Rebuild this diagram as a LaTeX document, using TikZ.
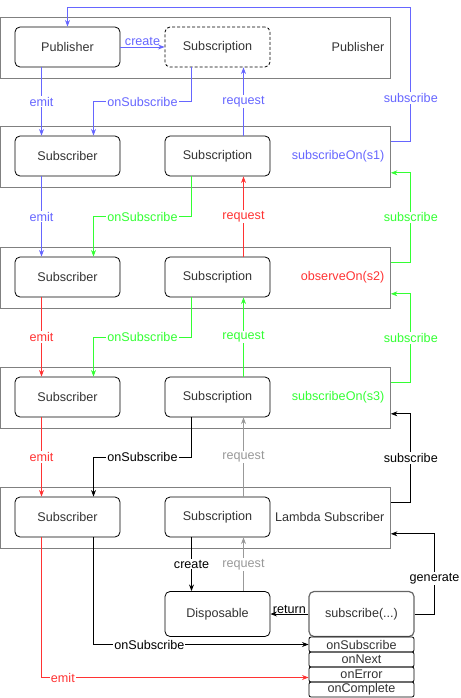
\documentclass[tikz,border=0pt]{standalone}
\usepackage{fontspec}
\setmainfont{Liberation Sans}
\usetikzlibrary{arrows.meta,calc,positioning}

\definecolor{rxblue}{HTML}{6666FF}
\definecolor{rxgreen}{HTML}{33FF33}
\definecolor{rxred}{HTML}{FF3333}
\definecolor{rxgray}{HTML}{999999}
\definecolor{rxtext}{HTML}{333333}

\tikzset{
    box/.style={draw, rounded corners=5pt, minimum width=105pt, minimum height=40pt,
        inner sep=0pt, text=rxtext},
    layer/.style={draw=gray, minimum width=390pt, minimum height=61pt,
        anchor=north west, inner sep=0pt},
    lbl/.style={fill=white, inner sep=1pt},
    cell/.style={draw, rounded corners=2pt, minimum width=105pt, minimum height=15pt,
        inner sep=0pt, text=rxtext},
}

\begin{document}
\begin{tikzpicture}[x=1pt, y=-1pt, >=Stealth, line width=0.8pt,
    font=\fontsize{12.6}{14}\selectfont]

    %% Background
    \useasboundingbox (0,0) rectangle (460,698);

    % Layers
    \node[layer] (L1) at (0,17) {};
    \foreach \i/\y in {2/126,3/247,4/367,5/487}
    {
    \node[layer] (L\i) at (0,\y) {};
    \node[box] (sr\i) at (67.5,\y+30) {Subscriber};
    \node[box] (sn\i) at (217.5,\y+30) {Subscription};
    }

    \node[box] (pub) at (67.5,47) {Publisher};
    \node[box, dash pattern=on 3pt off 2pt] (sub1) at (217.5,47) {Subscription};

    \node[anchor=east, text=rxtext] (t1) at (388,47) {Publisher};
    \node[anchor=east, text=rxblue] (t2) at (388,156) {subscribeOn(s1)};
    \node[anchor=east, text=rxred] (t3) at (388,277) {observeOn(s2)};
    \node[anchor=east, text=rxgreen] (t4) at (388,397) {subscribeOn(s3)};
    \node[anchor=east, text=rxtext] (t5) at (388,517) {Lambda Subscriber};

    % Bottom
    \node[box, minimum height=45pt] (disp) at (217.5,614) {Disposable};
    \node[box, minimum height=45pt, draw=black!60, line width=1.2pt] (call) at (361.5,614) {subscribe(...)};
    \foreach \n/\t [count=\k] in {cb1/onSubscribe,cb2/onNext,cb3/onError,cb4/onComplete}
    {
    \node[cell] (\n) at (361.5,629.5+15*\k) {\t};
    }

    % Publisher -> subscribeOn(s1)
    \draw[->, rxblue] (pub) -- node[above, inner sep=1pt]{create} (sub1);
    \draw[->, rxblue] ([xshift=-26pt]pub.south) -- node[lbl]{emit} ([xshift=-26pt]sr2.north);
    \draw[->, rxblue] ([xshift=-26pt]sub1.south) |- ($([xshift=-26pt]sub1.south)!0.5!([xshift=26pt]sr2.north)$)
        node[lbl]{onSubscribe} -| ([xshift=26pt]sr2.north);
    \draw[->, rxblue] ([xshift=26pt]sn2.north) -- node[lbl]{request} ([xshift=26pt]sub1.south);
    \draw[->, rxblue] ($(L2.north east)+(0,15)$) -- ++(20,0)
        -- node[lbl, pos=0.32]{subscribe} ++(0,-134) -| (pub.north);

    % subscribeOn(s1) -> observeOn(s2)
    \draw[->, rxblue] ([xshift=-26pt]sr2.south) -- node[lbl]{emit} ([xshift=-26pt]sr3.north);
    \draw[->, rxgreen] ([xshift=-26pt]sn2.south) |- ($([xshift=-26pt]sn2.south)!0.5!([xshift=26pt]sr3.north)$)
        node[lbl]{onSubscribe} -| ([xshift=26pt]sr3.north);
    \draw[->, rxred] ([xshift=26pt]sn3.north) -- node[lbl]{request} ([xshift=26pt]sn2.south);
    \draw[->, rxgreen] ($(L3.north east)+(0,15)$) -- ++(20,0)
        |- node[lbl, pos=0.25]{subscribe} ($(L2.south east)+(0,-15)$);

    % observeOn(s2) -> subscribeOn(s3)
    \draw[->, rxred] ([xshift=-26pt]sr3.south) -- node[lbl]{emit} ([xshift=-26pt]sr4.north);
    \draw[->, rxgreen] ([xshift=-26pt]sn3.south) |- ($([xshift=-26pt]sn3.south)!0.5!([xshift=26pt]sr4.north)$)
        node[lbl]{onSubscribe} -| ([xshift=26pt]sr4.north);
    \draw[->, rxgreen] ([xshift=26pt]sn4.north) -- node[lbl]{request} ([xshift=26pt]sn3.south);
    \draw[->, rxgreen] ($(L4.north east)+(0,15)$) -- ++(20,0)
        |- node[lbl, pos=0.25]{subscribe} ($(L3.south east)+(0,-15)$);

    % subscribeOn(s3) -> Lambda Subscriber
    \draw[->, rxred] ([xshift=-26pt]sr4.south) -- node[lbl]{emit} ([xshift=-26pt]sr5.north);
    \draw[->] ([xshift=-26pt]sn4.south) |- ($([xshift=-26pt]sn4.south)!0.5!([xshift=26pt]sr5.north)$)
        node[lbl]{onSubscribe} -| ([xshift=26pt]sr5.north);
    \draw[->, rxgray] ([xshift=26pt]sn5.north) -- node[lbl]{request} ([xshift=26pt]sn4.south);
    \draw[->] ($(L5.north east)+(0,15)$) -- ++(20,0)
        |- node[lbl, pos=0.25]{subscribe} ($(L4.south east)+(0,-15)$);

    % Lambda Subscriber -> subscribe(...)
    \draw[->] ([xshift=-26pt]sn5.south) -- node[lbl]{create} ([xshift=-26pt]disp.north);
    \draw[->, rxgray] ([xshift=26pt]disp.north) -- node[lbl]{request} ([xshift=26pt]sn5.south);
    \draw[->] (call.east) -- ++(20,0)
        |- node[lbl, pos=0.22]{generate} ($(L5.south east)+(0,-15)$);
    \draw[->] (call) -- node[above, inner sep=0pt]{return} (disp);
    \draw[->] ([xshift=26pt]sr5.south) |- node[lbl, pos=0.63]{onSubscribe} (cb1.west);
    \draw[->, rxred] ([xshift=-26pt]sr5.south) |- node[lbl, pos=0.54]{emit} ([yshift=-3pt]cb3.west);

\end{tikzpicture}
\end{document}
